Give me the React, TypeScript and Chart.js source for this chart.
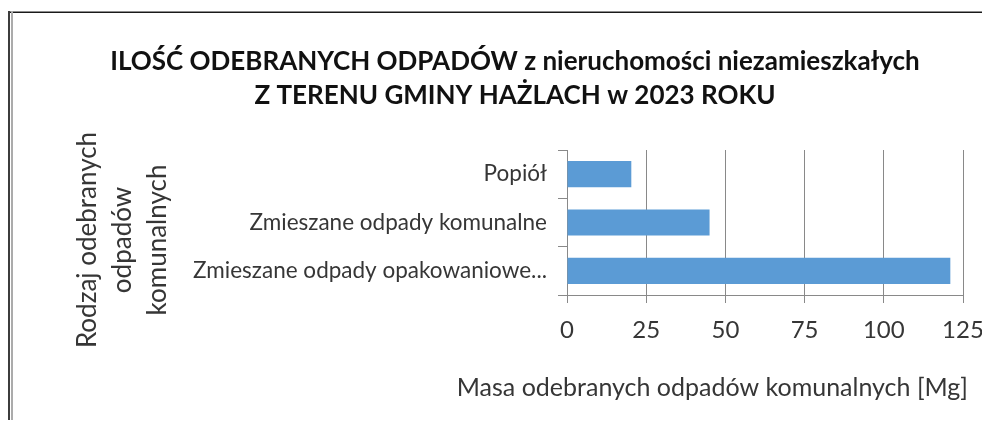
import { useEffect, useRef } from 'react';
import { Chart, registerables } from 'chart.js';

Chart.register(...registerables);

const titleLines = [
  'ILOŚĆ ODEBRANYCH ODPADÓW z nieruchomości niezamieszkałych',
  'Z TERENU GMINY HAŻLACH w 2023 ROKU',
];
const categories = [
  'Popiół',
  'Zmieszane odpady komunalne',
  'Zmieszane odpady opakowaniowe...',
];
const values = [20.3, 45, 121];
const xTicks = [0, 25, 50, 75, 100, 125];
const xTitle = 'Masa odebranych odpadów komunalnych [Mg]';
const yTitleLines = ['Rodzaj odebranych', 'odpadów', 'komunalnych'];

const FONT = 'Lato, "Open Sans", sans-serif';
const TEXT = '#363636';
const GRID = '#898989';

const framePlugin = {
  id: 'frame',
  beforeDraw(chart: any) {
    const { ctx, width, height } = chart;
    ctx.save();
    ctx.fillStyle = '#ffffff';
    ctx.fillRect(0, 0, width, height);
    ctx.fillStyle = '#1a1a1a';
    ctx.fillRect(0, 3.5, width, 1.5);
    ctx.fillStyle = '#3c3c3c';
    ctx.fillRect(0, 3, 2, height);
    ctx.fillStyle = '#ababab';
    ctx.fillRect(3, 3, 2, height);
    ctx.restore();
  },
};

const axisTitlesPlugin = {
  id: 'axisTitles',
  afterDraw(chart: any) {
    const { ctx, chartArea } = chart;
    const scale = chart.scales.y;
    ctx.save();
    ctx.fillStyle = TEXT;
    ctx.textBaseline = 'middle';
    // y-axis title (three rotated lines)
    ctx.font = `26px ${FONT}`;
    ctx.textAlign = 'center';
    const cy = chartArea.bottom - 55;
    yTitleLines.forEach((line, i) => {
      ctx.save();
      ctx.translate(scale.left + 21 + i * 35, cy);
      ctx.rotate(-Math.PI / 2);
      ctx.fillText(line, 0, 0);
      ctx.restore();
    });
    // x-axis title, right-aligned near the end of the axis
    ctx.font = `25px ${FONT}`;
    ctx.textAlign = 'right';
    ctx.fillText(xTitle, chartArea.right + 5, chartArea.bottom + 93);
    ctx.restore();
  },
};

export default function App() {
  const ref = useRef<HTMLCanvasElement | null>(null);

  useEffect(() => {
    if (!ref.current) return;
    const chart = new Chart(ref.current, {
      type: 'bar',
      data: {
        labels: categories,
        datasets: [
          {
            data: values,
            backgroundColor: '#5b9bd5',
            borderWidth: 0,
            barPercentage: 0.54,
            categoryPercentage: 1,
          },
        ],
      },
      options: {
        indexAxis: 'y',
        responsive: false,
        animation: false,
        layout: { padding: { left: 59, right: 27, top: 0, bottom: 0 } },
        plugins: {
          legend: { display: false },
          tooltip: { enabled: false },
          title: {
            display: true,
            text: titleLines,
            color: '#111111',
            font: { family: FONT, size: 26, weight: 'bold', lineHeight: 34 / 26 },
            padding: { top: 37, bottom: 37 },
          },
        },
        scales: {
          x: {
            min: 0,
            max: 125,
            afterBuildTicks: (s: any) => {
              s.ticks = xTicks.map((v) => ({ value: v }));
            },
            afterFit: (s: any) => {
              s.height = 125;
              s.paddingLeft = 0;
              s.paddingRight = 0;
            },
            ticks: {
              color: TEXT,
              font: { family: FONT, size: 24 },
              padding: 13,
            },
            grid: { color: GRID, lineWidth: 1, tickLength: 8, drawTicks: true },
            border: { color: GRID, width: 1 },
          },
          y: {
            afterFit: (s: any) => {
              s.width = 500;
            },
            ticks: {
              color: TEXT,
              font: { family: FONT, size: 22.5 },
              padding: 11,
            },
            grid: {
              drawOnChartArea: false,
              drawTicks: true,
              tickLength: 9,
              color: GRID,
              offset: true,
            },
            border: { color: GRID, width: 1 },
          },
        },
      },
      plugins: [framePlugin, axisTitlesPlugin],
    } as any);
    return () => chart.destroy();
  }, []);

  return (
    <div style={{ marginRight: -8 }}>
      <canvas ref={ref} width={982} height={412} style={{ display: 'block' }} />
    </div>
  );
}
